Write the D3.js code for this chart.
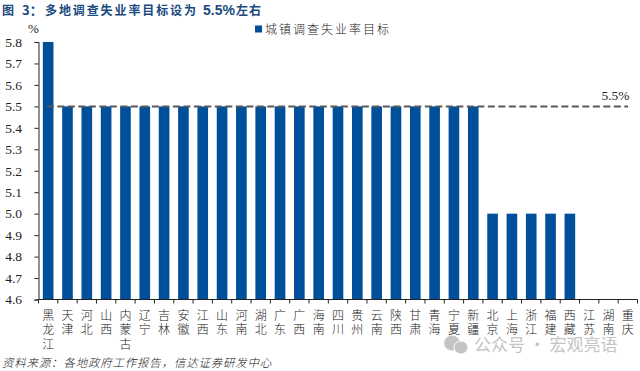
<!DOCTYPE html>
<html>
<head>
<meta charset="utf-8">
<script src="https://cdn.jsdelivr.net/npm/d3@7"></script>
<style>
  html, body { margin: 0; padding: 0; background: #fff; }
  .cjk { font-family: "Noto Sans CJK SC", sans-serif; }
  .num { font-family: "Liberation Serif", serif; }
</style>
</head>
<body>
<div class="chart"></div>
<script>
var provinces = ['黑龙江', '天津', '河北', '山西', '内蒙古', '辽宁', '吉林', '安徽', '江西', '山东', '河南',
  '湖北', '广东', '广西', '海南', '四川', '贵州', '云南', '陕西', '甘肃', '青海', '宁夏', '新疆',
  '北京', '上海', '浙江', '福建', '西藏', '江苏', '湖南', '重庆'];
var targets = [5.8, 5.5, 5.5, 5.5, 5.5, 5.5, 5.5, 5.5, 5.5, 5.5, 5.5,
  5.5, 5.5, 5.5, 5.5, 5.5, 5.5, 5.5, 5.5, 5.5, 5.5, 5.5, 5.5,
  5.0, 5.0, 5.0, 5.0, 5.0, null, null, null];
var yTicks = [4.6, 4.7, 4.8, 4.9, 5.0, 5.1, 5.2, 5.3, 5.4, 5.5, 5.6, 5.7, 5.8];
var refValue = 5.5;
var refLabel = '5.5%';
var seriesName = '城镇调查失业率目标';

var margin = { top: 42, right: 2.5, bottom: 71.5, left: 38.5 };
var width = 640 - margin.left - margin.right;
var height = 371 - margin.top - margin.bottom;
var blue = '#004f9b';

var root = d3.select('.chart')
  .append('svg')
    .attr('width', 640)
    .attr('height', 371)
    .style('display', 'block');

var svg = root.append('g')
  .attr('transform', `translate(${margin.left}, ${margin.top})`);

var xScale = d3.scaleBand()
  .domain(provinces)
  .range([0, width])
  .paddingInner(0.45)
  .paddingOuter(0.225);

var yScale = d3.scaleLinear()
  .domain([4.6, 5.8])
  .range([height, 0]);

// bars
svg.selectAll('rect.bar')
  .data(provinces.map((p, i) => ({ name: p, value: targets[i] })).filter(d => d.value !== null))
  .enter()
  .append('rect')
    .attr('class', 'bar')
    .attr('x', d => xScale(d.name))
    .attr('y', d => yScale(d.value))
    .attr('width', xScale.bandwidth())
    .attr('height', d => height - yScale(d.value))
    .attr('fill', blue);

// y axis
var yAxis = svg.append('g')
  .call(d3.axisLeft(yScale).tickValues(yTicks).tickFormat(d3.format('.1f')).tickSize(4).tickPadding(12.5));
yAxis.selectAll('text')
  .attr('class', 'num')
  .style('font-size', '13.5px')
  .style('fill', '#222');
yAxis.selectAll('line, path').attr('stroke', '#222');

// x axis, ticks sit on the band edges
var xAxis = svg.append('g')
  .attr('transform', `translate(0, ${height})`);
xAxis.append('line')
  .attr('x1', 0).attr('x2', width)
  .attr('stroke', '#222');
xAxis.selectAll('line.tick')
  .data(d3.range(provinces.length + 1))
  .enter()
  .append('line')
    .attr('class', 'tick')
    .attr('x1', i => width * i / provinces.length)
    .attr('x2', i => width * i / provinces.length)
    .attr('y1', 0).attr('y2', 4)
    .attr('stroke', '#222');

// vertical province labels
xAxis.selectAll('text.label')
  .data(provinces)
  .enter()
  .append('text')
    .attr('class', 'label cjk')
    .attr('x', d => xScale(d) + xScale.bandwidth() / 2)
    .attr('y', 9.5)
    .style('writing-mode', 'vertical-rl')
    .style('font-size', '12px')
    .style('font-weight', 300)
    .style('letter-spacing', '2.7px')
    .style('fill', '#222')
    .text(d => d);

// reference line
svg.append('line')
  .attr('x1', xScale(provinces[0]) + 4)
  .attr('x2', xScale(provinces[provinces.length - 1]) + 5.5)
  .attr('y1', yScale(refValue))
  .attr('y2', yScale(refValue))
  .attr('stroke', '#595959')
  .attr('stroke-width', 2)
  .attr('stroke-dasharray', '7 3.5');

svg.append('text')
  .attr('class', 'num')
  .attr('x', xScale(provinces[provinces.length - 1]) + 7)
  .attr('y', yScale(refValue) - 6)
  .attr('text-anchor', 'end')
  .style('font-size', '13.5px')
  .style('fill', '#222')
  .text(refLabel);

// unit
root.append('text')
  .attr('class', 'num')
  .attr('x', 33.5).attr('y', 33)
  .attr('text-anchor', 'middle')
  .style('font-size', '13px')
  .style('fill', '#222')
  .text('%');

// legend
root.append('rect')
  .attr('x', 255).attr('y', 25.5)
  .attr('width', 7).attr('height', 7)
  .attr('fill', blue);
root.append('text')
  .attr('class', 'cjk')
  .attr('x', 265).attr('y', 34)
  .style('font-size', '12px')
  .style('font-weight', 300)
  .style('letter-spacing', '2px')
  .style('fill', '#222')
  .text(seriesName);

// title, pieces placed by hand because the source mixes widths
var title = root.append('text')
  .attr('class', 'cjk')
  .attr('y', 14.5)
  .style('font-size', '12px')
  .style('font-weight', 700)
  .style('fill', '#1a4a80');
title.append('tspan').attr('x', 2).text('图');
title.append('tspan').attr('x', 22).style('font-size', '13px').text('3：');
title.append('tspan').attr('x', 45).style('letter-spacing', '1.9px').text('多地调查失业率目标设为');
title.append('tspan').attr('x', 203)
  .style('font-family', '"Liberation Sans", sans-serif')
  .style('font-size', '14px')
  .text('5.5%');
title.append('tspan').attr('x', 236).style('letter-spacing', '1px').text('左右');

// source
root.append('text')
  .attr('class', 'cjk')
  .attr('transform', 'translate(2, 367) skewX(-14)')
  .style('font-size', '11.5px')
  .style('font-weight', 300)
  .style('letter-spacing', '0.8px')
  .style('fill', '#222')
  .text('资料来源：各地政府工作报告，信达证券研发中心');

// watermark
var wm = root.append('g').attr('fill', '#c4c4c4');
wm.append('ellipse').attr('cx', 452).attr('cy', 343).attr('rx', 8).attr('ry', 7.5);
wm.append('ellipse').attr('cx', 461).attr('cy', 347.5).attr('rx', 7).attr('ry', 6.5).attr('stroke', '#fff');
wm.append('text')
  .attr('class', 'cjk')
  .attr('x', 474).attr('y', 351)
  .style('font-size', '17px')
  .style('font-weight', 400)
  .text('公众号 · 宏观亮语');
</script>
</body>
</html>
